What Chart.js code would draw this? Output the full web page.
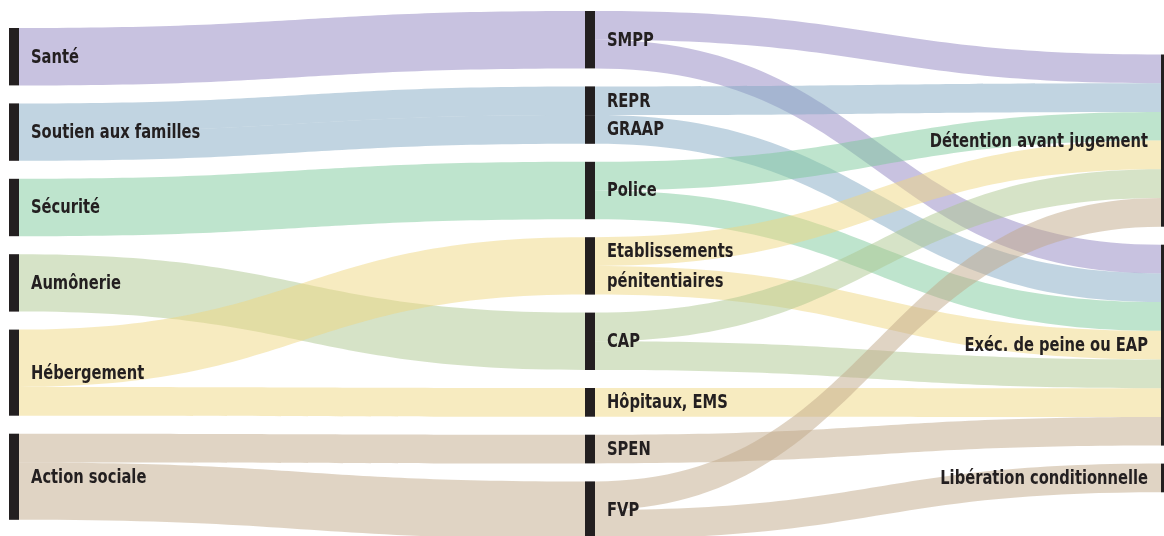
<!DOCTYPE html>
<html>
<head>
<meta charset="utf-8">
<script src="https://cdn.jsdelivr.net/npm/chart.js@4"></script>
<style>
  html, body { margin: 0; padding: 0; background: #fff; }
  #wrap { width: 1164px; height: 536px; position: relative; }
</style>
</head>
<body>
<div id="wrap"><canvas id="sankey"></canvas></div>
<script>
// nodes, one list per column
var leftNodes = ['Santé', 'Soutien aux familles', 'Sécurité', 'Aumônerie', 'Hébergement', 'Action sociale'];
var middleNodes = ['SMPP', 'REPR', 'GRAAP', 'Police', 'Etablissements pénitentiaires', 'CAP', 'Hôpitaux, EMS', 'SPEN', 'FVP'];
var rightNodes = ['Détention avant jugement', 'Exéc. de peine ou EAP', 'Libération conditionnelle'];

// left -> middle
var stage1From = ['Santé', 'Soutien aux familles', 'Soutien aux familles', 'Sécurité', 'Aumônerie', 'Hébergement', 'Hébergement', 'Action sociale', 'Action sociale'];
var stage1To = ['SMPP', 'REPR', 'GRAAP', 'Police', 'CAP', 'Etablissements pénitentiaires', 'Hôpitaux, EMS', 'SPEN', 'FVP'];
var stage1Values = [2, 1, 1, 2, 2, 2, 1, 1, 2];

// middle -> right
var stage2From = ['SMPP', 'SMPP', 'REPR', 'GRAAP', 'Police', 'Police', 'Etablissements pénitentiaires', 'Etablissements pénitentiaires', 'CAP', 'CAP', 'Hôpitaux, EMS', 'SPEN', 'FVP', 'FVP'];
var stage2To = ['Détention avant jugement', 'Exéc. de peine ou EAP', 'Détention avant jugement', 'Exéc. de peine ou EAP', 'Détention avant jugement', 'Exéc. de peine ou EAP', 'Détention avant jugement', 'Exéc. de peine ou EAP', 'Détention avant jugement', 'Exéc. de peine ou EAP', 'Exéc. de peine ou EAP', 'Exéc. de peine ou EAP', 'Détention avant jugement', 'Libération conditionnelle'];
var stage2Values = [1, 1, 1, 1, 1, 1, 1, 1, 1, 1, 1, 1, 1, 1];

// styling / layout
var sourceColors = {
  'Santé': 'rgba(145, 133, 193, 0.5)',
  'Soutien aux familles': 'rgba(131, 169, 195, 0.5)',
  'Sécurité': 'rgba(125, 201, 155, 0.5)',
  'Aumônerie': 'rgba(173, 199, 143, 0.5)',
  'Hébergement': 'rgba(239, 215, 129, 0.5)',
  'Action sociale': 'rgba(193, 169, 137, 0.5)'
};
var UNIT_PX = 28.7;               // pixels for one unit of flow
var GAP = 18 / UNIT_PX;           // gap between nodes, in units
var columnTop = [28 / UNIT_PX, 11 / UNIT_PX, 54.5 / UNIT_PX];
var noGapBefore = ['GRAAP'];
var BAR_W = 10;
var INK = '#231f20';
var FONT = 'bold 19px "DejaVu Sans Condensed", "DejaVu Sans", sans-serif';
var TEXT_SQUEEZE = 0.86;          // the original face is narrower than DejaVu Condensed

var columns = [leftNodes, middleNodes, rightNodes];
var flows = [];
stage1From.forEach(function (f, i) { flows.push({ from: f, to: stage1To[i], value: stage1Values[i], col: 0 }); });
stage2From.forEach(function (f, i) { flows.push({ from: f, to: stage2To[i], value: stage2Values[i], col: 1 }); });

// node sizes and colours (each node inherits the colour of its left-hand origin)
var nodes = {};
columns.forEach(function (list, c) {
  list.forEach(function (name) { nodes[name] = { name: name, col: c, inV: 0, outV: 0 }; });
});
flows.forEach(function (fl) {
  nodes[fl.from].outV += fl.value;
  nodes[fl.to].inV += fl.value;
});
leftNodes.forEach(function (n) { nodes[n].color = sourceColors[n]; });
flows.forEach(function (fl) { fl.color = nodes[fl.from].color; nodes[fl.to].color = nodes[fl.to].color || fl.color; });

// stack nodes in each column
columns.forEach(function (list, c) {
  var y = columnTop[c];
  list.forEach(function (name, i) {
    var n = nodes[name];
    if (i > 0 && noGapBefore.indexOf(name) < 0) y += GAP;
    n.y0 = y;
    n.size = Math.max(n.inV, n.outV);
    y += n.size;
    n.outPos = n.y0;
    n.inPos = n.y0;
  });
});
flows.forEach(function (fl) {
  fl.sy = nodes[fl.from].outPos; nodes[fl.from].outPos += fl.value;
  fl.ty = nodes[fl.to].inPos; nodes[fl.to].inPos += fl.value;
});

var sankeyPlugin = {
  id: 'sankeyDraw',
  afterDatasetsDraw: function (chart) {
    var ctx = chart.ctx;
    var xs = chart.scales.x, ys = chart.scales.y;
    ctx.save();

    flows.forEach(function (fl) {
      var x0 = xs.getPixelForValue(fl.col) + BAR_W;
      var x1 = xs.getPixelForValue(fl.col + 1);
      var xm = (x0 + x1) / 2;
      var a0 = ys.getPixelForValue(fl.sy), a1 = ys.getPixelForValue(fl.sy + fl.value);
      var b0 = ys.getPixelForValue(fl.ty), b1 = ys.getPixelForValue(fl.ty + fl.value);
      ctx.beginPath();
      ctx.moveTo(x0, a0);
      ctx.bezierCurveTo(xm, a0, xm, b0, x1, b0);
      ctx.lineTo(x1, b1);
      ctx.bezierCurveTo(xm, b1, xm, a1, x0, a1);
      ctx.closePath();
      ctx.fillStyle = fl.color;
      ctx.fill();
    });

    ctx.fillStyle = INK;
    Object.keys(nodes).forEach(function (k) {
      var n = nodes[k];
      var x = xs.getPixelForValue(n.col);
      var top = ys.getPixelForValue(n.y0), bot = ys.getPixelForValue(n.y0 + n.size);
      ctx.fillRect(x, top, BAR_W, bot - top);
    });

    ctx.font = FONT;
    ctx.textBaseline = 'middle';
    Object.keys(nodes).forEach(function (k) {
      var n = nodes[k];
      var x = xs.getPixelForValue(n.col);
      var cy = ys.getPixelForValue(n.y0 + n.size / 2);
      var lines = (n.col === 1 && n.name.length > 20) ? n.name.split(' ') : [n.name];
      var tx;
      if (n.col === 2) { ctx.textAlign = 'right'; tx = x - 13; }
      else { ctx.textAlign = 'left'; tx = x + BAR_W + 12; }
      lines.forEach(function (line, i) {
        ctx.save();
        ctx.translate(tx, cy + (i - (lines.length - 1) / 2) * 30 + 1);
        ctx.scale(TEXT_SQUEEZE, 1);
        ctx.fillText(line, 0, 0);
        ctx.restore();
      });
    });
    ctx.restore();
  }
};

var chart = new Chart(document.getElementById('sankey').getContext('2d'), {
  type: 'scatter',
  data: { datasets: [{ data: [] }] },
  options: {
    responsive: true,
    maintainAspectRatio: false,
    animation: false,
    layout: { padding: { left: 9, right: 3, top: 0, bottom: 0 } },
    scales: {
      x: { type: 'linear', min: 0, max: 2, display: false },
      y: { type: 'linear', min: 0, max: 536 / UNIT_PX, reverse: true, display: false }
    },
    plugins: { legend: { display: false }, tooltip: { enabled: false } }
  },
  plugins: [sankeyPlugin]
});
</script>
</body>
</html>
